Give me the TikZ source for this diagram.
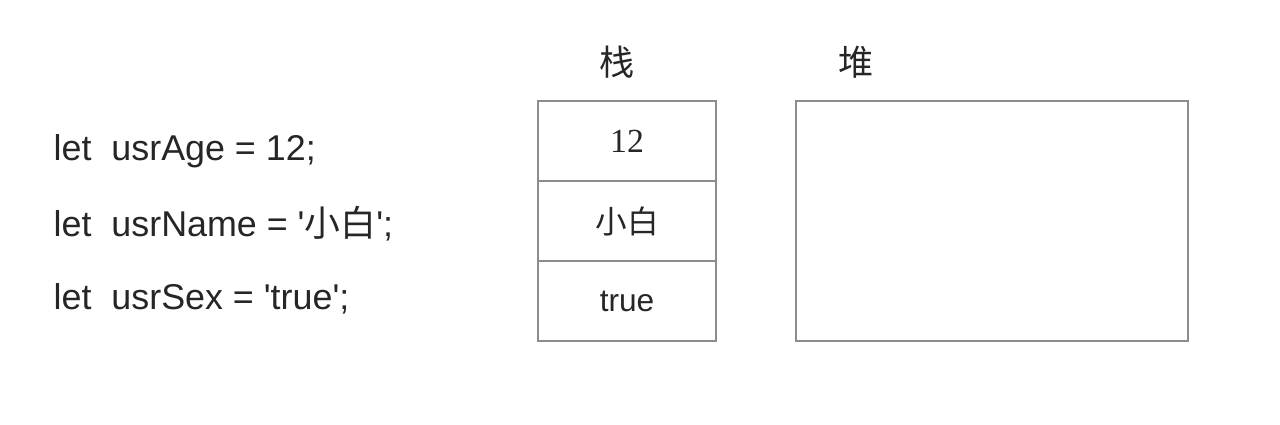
\documentclass[tikz,border=0pt]{standalone}
\usepackage{fontspec}
\setmainfont{Liberation Sans}
\newfontfamily\cjk{Noto Sans CJK SC}
\newfontfamily\numserif{Liberation Serif}
\usetikzlibrary{positioning}

\begin{document}
\begin{tikzpicture}[
  cell/.style={draw=black!45, line width=0.7pt, minimum width=1.78cm, minimum height=0.8cm, inner sep=0pt, outer sep=0pt, font=\fontsize{9pt}{11pt}\selectfont, text=black!85},
  heapbox/.style={cell, minimum width=3.92cm, minimum height=2.4cm},
  code/.style={anchor=west, inner sep=0pt, font=\fontsize{10.2pt}{12pt}\selectfont, text=black!85},
  title/.style={font=\cjk\fontsize{10pt}{12pt}\selectfont, text=black!85},
  node distance=0cm
]
  \useasboundingbox (0,0) rectangle (12.8,-4.25);

  % code on the left
  \node[code] (lage) at (0.53,-1.51) {let\ \ usrAge = 12;};
  \node[code, below=0.73cm of lage.west, anchor=west] (lname) {let\ \ usrName = \textquotesingle{\cjk 小白}\textquotesingle;};
  \node[code, below=0.75cm of lname.west, anchor=west] (lsex) {let\ \ usrSex = \textquotesingle true\textquotesingle;};

  % stack
  \node[title] (stacktitle) at (6.17,-0.62) {栈};
  \node[cell] (age) at (6.27,-1.41) {{\numserif\fontsize{9.6pt}{11pt}\selectfont 12}};
  \node[cell, below=of age] (name) {{\cjk 小白}};
  \node[cell, below=of name] (sex) {true};

  % heap
  \node[title] (heaptitle) at (8.56,-0.62) {堆};
  \node[heapbox, below right=0cm and 0.8cm of age.north east] (heap) {};
\end{tikzpicture}
\end{document}
